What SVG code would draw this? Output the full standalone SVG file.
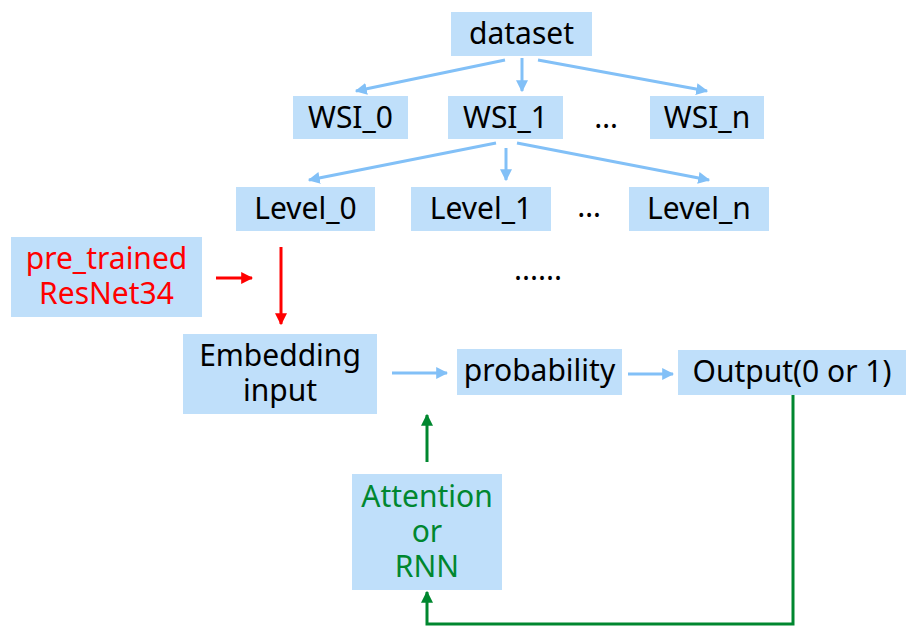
<svg xmlns="http://www.w3.org/2000/svg" width="916" height="634" viewBox="0 0 916 634">
<style>
.box{fill:#BFDFFA}
.t{font-family:"Noto Sans","Open Sans","Liberation Sans",sans-serif;font-size:30px;fill:#000;text-anchor:middle}
.red{fill:#FF0000}
.grn{fill:#00872F}
.lb{stroke:#82C0F7;stroke-width:3;fill:none}
.lr{stroke:#FF0000;stroke-width:3;fill:none}
.lg{stroke:#00872F;stroke-width:3;fill:none}
</style>
<defs>
<marker id="ab" viewBox="0 0 10 10" refX="9" refY="5" markerWidth="4" markerHeight="4" orient="auto"><path d="M0,0 L10,5 L0,10 Z" fill="#82C0F7"/></marker>
<marker id="ar" viewBox="0 0 10 10" refX="9" refY="5" markerWidth="4" markerHeight="4" orient="auto"><path d="M0,0 L10,5 L0,10 Z" fill="#FF0000"/></marker>
<marker id="ag" viewBox="0 0 10 10" refX="9" refY="5" markerWidth="4" markerHeight="4" orient="auto"><path d="M0,0 L10,5 L0,10 Z" fill="#00872F"/></marker>
</defs>
<rect width="916" height="634" fill="#fff"/>
<g id="connectors">
<line class="lb" x1="505" y1="60" x2="356" y2="91" marker-end="url(#ab)"/>
<line class="lb" x1="522" y1="58" x2="522" y2="91" marker-end="url(#ab)"/>
<line class="lb" x1="538" y1="60" x2="707" y2="91" marker-end="url(#ab)"/>
<line class="lb" x1="496" y1="143" x2="309" y2="180" marker-end="url(#ab)"/>
<line class="lb" x1="506" y1="148" x2="506" y2="180" marker-end="url(#ab)"/>
<line class="lb" x1="517" y1="143" x2="709" y2="180" marker-end="url(#ab)"/>
<line class="lr" x1="216" y1="278" x2="252" y2="278" marker-end="url(#ar)"/>
<line class="lr" x1="281" y1="247" x2="281" y2="324" marker-end="url(#ar)"/>
<line class="lb" x1="392" y1="373" x2="447" y2="373" marker-end="url(#ab)"/>
<line class="lb" x1="628" y1="374" x2="673" y2="374" marker-end="url(#ab)"/>
<line class="lg" x1="427" y1="462" x2="427" y2="415" marker-end="url(#ag)"/>
<polyline class="lg" points="793,395 793,624 427,624 427,592" marker-end="url(#ag)"/>
</g>
<g id="dataset"><rect class="box" x="451" y="12" width="141" height="44"/><text class="t" x="521.5" y="44">dataset</text></g>
<g id="wsi0"><rect class="box" x="293" y="96" width="115" height="43"/><text class="t" x="350.5" y="128">WSI_0</text></g>
<g id="wsi1"><rect class="box" x="448" y="96" width="115" height="43"/><text class="t" x="505.5" y="128">WSI_1</text></g>
<g id="wsidots"><text class="t" x="606" y="128">…</text></g>
<g id="wsin"><rect class="box" x="650" y="96" width="114" height="43"/><text class="t" x="707" y="128">WSI_n</text></g>
<g id="level0"><rect class="box" x="236" y="187" width="139" height="44"/><text class="t" x="305.5" y="219">Level_0</text></g>
<g id="level1"><rect class="box" x="411" y="187" width="140" height="44"/><text class="t" x="481" y="219">Level_1</text></g>
<g id="leveldots"><text class="t" x="589" y="217">…</text></g>
<g id="leveln"><rect class="box" x="629" y="187" width="140" height="44"/><text class="t" x="699" y="219">Level_n</text></g>
<g id="dots"><text class="t" x="538" y="280">......</text></g>
<g id="resnet"><rect class="box" x="11" y="237" width="191" height="80"/><text class="t red" x="106.5" y="269">pre_trained</text><text class="t red" x="106.5" y="304">ResNet34</text></g>
<g id="embedding"><rect class="box" x="183" y="334" width="194" height="80"/><text class="t" x="280" y="366">Embedding</text><text class="t" x="280" y="401">input</text></g>
<g id="probability"><rect class="box" x="457" y="349" width="165" height="46"/><text class="t" x="539.5" y="381">probability</text></g>
<g id="output"><rect class="box" x="678" y="350" width="228" height="45"/><text class="t" x="792" y="382">Output(0 or 1)</text></g>
<g id="attention"><rect class="box" x="352" y="474" width="150" height="116"/><text class="t grn" x="427" y="507">Attention</text><text class="t grn" x="427" y="542">or</text><text class="t grn" x="427" y="577">RNN</text></g>
</svg>
